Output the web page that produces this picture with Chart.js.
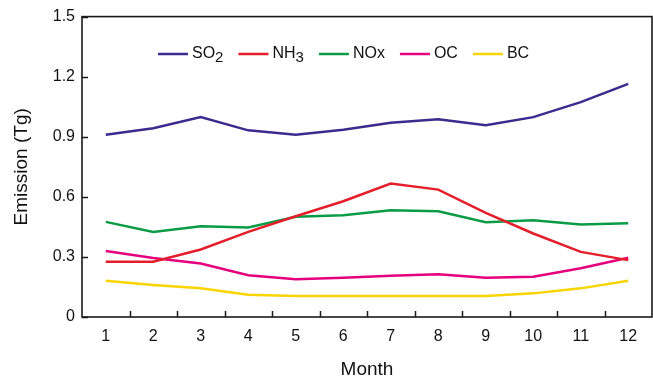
<!DOCTYPE html>
<html>
<head>
<meta charset="utf-8">
<script src="https://cdn.jsdelivr.net/npm/chart.js@4/dist/chart.umd.min.js"></script>
<style>
html,body{margin:0;padding:0;background:#fff;}
#wrap{width:653px;height:379px;position:relative;}
</style>
</head>
<body>
<div id="wrap"><canvas id="c" width="653" height="379"></canvas></div>
<script>
const months = ['1','2','3','4','5','6','7','8','9','10','11','12'];
const seriesNames = ['SO2','NH3','NOx','OC','BC'];
const so2 = [0.91,0.943,0.998,0.932,0.91,0.935,0.97,0.988,0.958,0.998,1.073,1.164];
const nh3 = [0.276,0.276,0.337,0.425,0.503,0.578,0.666,0.636,0.52,0.417,0.325,0.284];
const nox = [0.475,0.425,0.453,0.447,0.50,0.508,0.533,0.528,0.473,0.483,0.462,0.468];
const oc  = [0.33,0.295,0.267,0.209,0.189,0.196,0.206,0.213,0.196,0.201,0.243,0.296];
const bc  = [0.181,0.16,0.143,0.111,0.105,0.105,0.105,0.105,0.105,0.118,0.143,0.181];
const yTicks = [0,0.3,0.6,0.9,1.2,1.5];
const colors = ['#3d2a8e','#e41e2b','#0a9b45','#e5007e','#f8d400'];

const FONT = '"Liberation Sans", Arial, sans-serif';

const frameAndTicks = {
  id:'frameAndTicks',
  afterDraw(chart){
    const ctx = chart.ctx, a = chart.chartArea;
    const xs = chart.scales.x, ys = chart.scales.y;
    ctx.save();
    ctx.strokeStyle = '#1a1a1a';
    ctx.lineWidth = 1.5;
    ctx.beginPath();
    // inward x ticks between categories
    for (let i = 0; i < months.length - 1; i++) {
      const px = Math.round((xs.getPixelForTick(i) + xs.getPixelForTick(i+1)) / 2) + 0.5;
      ctx.moveTo(px, a.bottom); ctx.lineTo(px, a.bottom - 6);
    }
    // inward y ticks
    yTicks.forEach(v => {
      const py = Math.round(ys.getPixelForValue(v)) + 0.5;
      ctx.moveTo(a.left, py); ctx.lineTo(a.left + 6, py);
    });
    ctx.stroke();
    ctx.lineWidth = 1.6;
    ctx.strokeRect(a.left, a.top, a.right - a.left, a.bottom - a.top);
    ctx.restore();
  }
};

const subLegend = {
  id:'subLegend',
  afterDraw(chart){
    const ctx = chart.ctx, a = chart.chartArea;
    let x = a.left + 76;
    const y = 54;
    ctx.save();
    chart.data.datasets.forEach(ds => {
      ctx.strokeStyle = ds.borderColor;
      ctx.lineWidth = 2.5;
      ctx.beginPath(); ctx.moveTo(x, y); ctx.lineTo(x + 30, y); ctx.stroke();
      x += 34;
      const m = ds.label.match(/^([A-Za-z]+?)(\d*)$/);
      const base = m ? m[1] : ds.label, sub = m ? m[2] : '';
      ctx.fillStyle = '#111';
      ctx.textBaseline = 'middle';
      ctx.textAlign = 'left';
      ctx.font = '16px ' + FONT;
      ctx.fillText(base, x, y);
      x += ctx.measureText(base).width;
      if (sub) {
        ctx.font = '15px ' + FONT;
        ctx.fillText(sub, x, y + 4);
        x += ctx.measureText(sub).width;
      }
      x += 15;
    });
    ctx.restore();
  }
};

const allData = [so2, nh3, nox, oc, bc];
new Chart(document.getElementById('c'), {
  type:'line',
  data:{
    labels: months,
    datasets: seriesNames.map((n,i) => ({
      label: n, data: allData[i], borderColor: colors[i], backgroundColor: colors[i],
      borderWidth: 2.5, pointRadius: 0, tension: 0, fill: false
    }))
  },
  options:{
    responsive:false, animation:false, devicePixelRatio:1,
    layout:{padding:{top:16,right:1,left:0,bottom:0}},
    plugins:{legend:{display:false}, tooltip:{enabled:false}},
    scales:{
      x:{
        offset:true,
        grid:{display:false, drawTicks:false},
        border:{display:false},
        ticks:{color:'#111', font:{family:FONT, size:16}, padding:10, maxRotation:0},
        title:{display:true, text:'Month', color:'#111', font:{family:FONT, size:19, lineHeight:1}, padding:{top:0,bottom:0}},
        afterFit(s){ s.height = 62; }
      },
      y:{
        min:0, max:1.5,
        grid:{display:false, drawTicks:false},
        border:{display:false},
        afterBuildTicks(s){ s.ticks = yTicks.map(v => ({value:v})); },
        ticks:{color:'#111', font:{family:FONT, size:16}, padding:7,
          callback:(v) => v === 0 ? '0' : Number(v).toFixed(1)},
        title:{display:true, text:'Emission (Tg)', color:'#111', font:{family:FONT, size:19}, padding:{top:10,bottom:0}},
        afterFit(s){ s.width = 82; }
      }
    }
  },
  plugins:[frameAndTicks, subLegend]
});
</script>
</body>
</html>
